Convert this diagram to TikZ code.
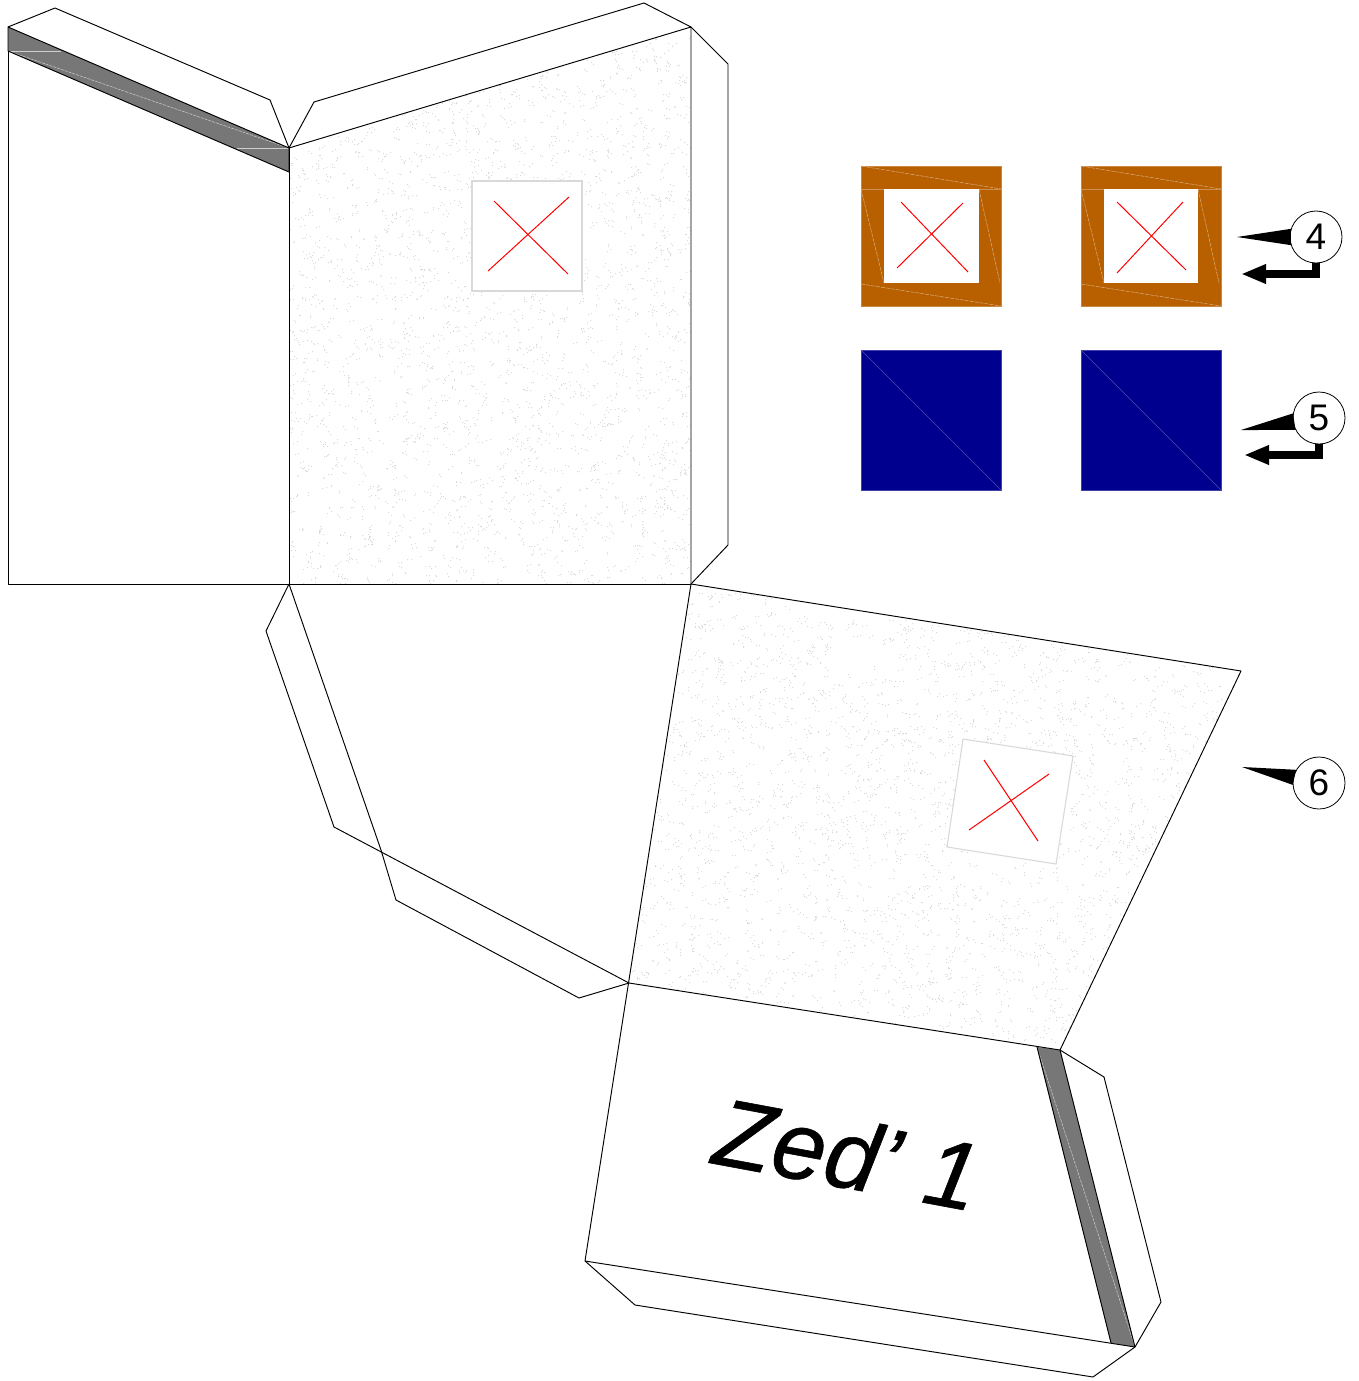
\documentclass[tikz,border=0pt]{standalone}
\usepackage{fontspec}
\setmainfont{Liberation Sans}
\usetikzlibrary{arrows.meta}
\definecolor{strip}{HTML}{777777}
\definecolor{ochre}{HTML}{B85F00}
\definecolor{navy}{HTML}{00008F}
\tikzset{
  outline/.style={draw=black,line width=0.95pt,line join=round},
  stripfill/.style={fill=strip},
  hairgrey/.style={draw=white!65!strip,line width=0.5pt},
  hairgreydash/.style={hairgrey,dash pattern=on 3pt off 1pt},
  ochrebox/.style={fill=ochre,draw=ochre!75!white,line width=0.6pt},
  navybox/.style={fill=navy,draw=navy!75!white,line width=0.8pt},
  hairochre/.style={draw=ochre!70!white,line width=0.5pt},
  hairochredash/.style={draw=ochre!50!white,line width=0.5pt,dash pattern=on 4pt off 1pt},
  hairnavy/.style={draw=navy!70!white,line width=0.5pt},
  inner/.style={fill=white},
  window/.style={fill=white,draw=black!15,line width=1.1pt},
  cross/.style={draw=red,line width=1pt},
  callout/.style={circle,draw=black,fill=white,line width=0.8pt,minimum size=52pt,inner sep=0pt,font=\fontsize{37}{37}\selectfont},
  hook/.style={draw=black,line width=7.5pt,-{Triangle[length=25pt,width=18pt]}},
  dot/.style={fill=black!14},
}
\begin{document}
\begin{tikzpicture}[x=1pt,y=-1pt]
\useasboundingbox (0,0) rectangle (1359,1381);
% stippled panels
\pgfmathsetseed{4217}
\begin{scope}
  \clip (289,148) -- (691,27) -- (691,584) -- (289,584) -- cycle;
  \foreach \i in {1,...,2200}{
    \pgfmathrandominteger{\xa}{289}{691}\pgfmathrandominteger{\ya}{27}{584}
    \pgfmathrandominteger{\xb}{-4}{4}\pgfmathrandominteger{\yb}{-3}{3}
    \fill[dot] (\xa,\ya) rectangle ++(1.2,1.2) (\xa+\xb,\ya+\yb) rectangle ++(1.2,1.2);
  }
\end{scope}
\begin{scope}
  \clip (691,584) -- (1241,671) -- (1060,1050) -- (629,983) -- cycle;
  \foreach \i in {1,...,2800}{
    \pgfmathrandominteger{\xa}{629}{1241}\pgfmathrandominteger{\ya}{584}{1050}
    \pgfmathrandominteger{\xb}{-4}{4}\pgfmathrandominteger{\yb}{-3}{3}
    \fill[dot] (\xa,\ya) rectangle ++(1.2,1.2) (\xa+\xb,\ya+\yb) rectangle ++(1.2,1.2);
  }
\end{scope}
% windows in the panels
\path[window] (472,181) rectangle (582,291);
\draw[cross] (494,201) -- (568,274);
\draw[cross] (488,271) -- (569,197);
\path[window] (963,739) -- (1073,756) -- (1056,864) -- (947,847) -- cycle;
\draw[cross] (984,760) -- (1038,841);
\draw[cross] (969,830) -- (1049,774);
% grey strips
\path[stripfill] (8,27) -- (289,148) -- (289,172) -- (8,51) -- cycle;
\draw[hairgrey] (8,51) -- (61,51);
\draw[hairgrey] (237,148) -- (289,148);
\draw[hairgreydash] (8,51) -- (289,148);
\path[stripfill] (1037,1047) -- (1060,1050) -- (1135,1347) -- (1111,1343) -- cycle;
\draw[hairgreydash] (1037,1047) -- (1135,1347);
% upper net
\draw[outline] (8,51) -- (8,27) -- (289,148) -- (289,172);
\draw[outline] (8,51) -- (289,172);
\draw[outline] (8,51) -- (8,584) -- (691,584);
\draw[outline] (8,27) -- (55,8) -- (270,100) -- (289,148);
\draw[outline] (289,148) -- (691,27) -- (691,584);
\draw[outline] (289,148) -- (289,584);
\draw[outline] (289,148) -- (314,102) -- (644,3) -- (691,27);
\draw[outline] (691,27) -- (728,64) -- (728,545) -- (691,584);
% middle
\draw[outline] (289,584) -- (381,850);
\draw[outline] (289,584) -- (266,631) -- (334,827) -- (629,983);
\draw[outline] (381,850) -- (396,900) -- (579,998) -- (629,983);
\draw[outline] (691,584) -- (1241,671) -- (1060,1050);
\draw[outline] (691,584) -- (585,1261);
% lower panel
\draw[outline] (629,983) -- (1060,1050);
\draw[outline] (1037,1047) -- (1111,1343);
\draw[outline] (1060,1050) -- (1135,1347);
\draw[outline] (585,1261) -- (1135,1347);
\draw[outline] (1060,1050) -- (1104,1077) -- (1161,1302) -- (1135,1347);
\draw[outline] (585,1261) -- (635,1305) -- (1093,1377) -- (1135,1347);
\node[anchor=base west,inner sep=0pt,rotate=-10.5,font=\fontsize{96}{96}\selectfont\itshape\addfontfeature{FakeBold=0.6}] (zed) at (710,1163) {Zed’ 1};
% ochre squares
\foreach \n/\ox/\ix/\iy in {a/861/884/979,b/1081/1104/1198}{
  \path[ochrebox] (\ox,166) rectangle ++(140,140);
  \draw[hairochre] (\ox,189) -- ++(140,0);
  \draw[hairochredash] (\ox,166) -- ++(140,23);
  \draw[hairochredash] (\ox,284) -- ++(140,22);
  \draw[hairochredash] (\ox,189) -- ++(23,94);
  \draw[hairochredash] (\iy,189) -- ++(21,94);
  \path[inner] (\ix,189) rectangle (\iy,283);
}
\draw[cross] (901,202) -- (968,272);
\draw[cross] (897,268) -- (963,203);
\draw[cross] (1117,202) -- (1186,270);
\draw[cross] (1117,273) -- (1183,202);
% navy squares
\foreach \ox in {861,1081}{
  \path[navybox] (\ox,350) rectangle ++(140,140);
  \draw[hairnavy] (\ox,350) -- ++(140,140);
}
% callouts
\coordinate (tip4) at (1237,237);
\coordinate (tip5) at (1241,430);
\coordinate (tip6) at (1242,767);
\coordinate (end4) at (1241,274);
\coordinate (end5) at (1244,455);
\node[callout] (c4) at (1316,237) {4};
\node[callout] (c5) at (1319,418) {5};
\node[callout] (c6) at (1319,783) {6};
\fill (tip4) -- (c4.162) -- (c4.198) -- cycle;
\fill (tip5) -- (c5.170) -- (c5.207) -- cycle;
\fill (tip6) -- (c6.150) -- (c6.184) -- cycle;
\draw[hook] (c4.south) |- (end4);
\draw[hook] (c5.south) |- (end5);
\end{tikzpicture}
\end{document}
